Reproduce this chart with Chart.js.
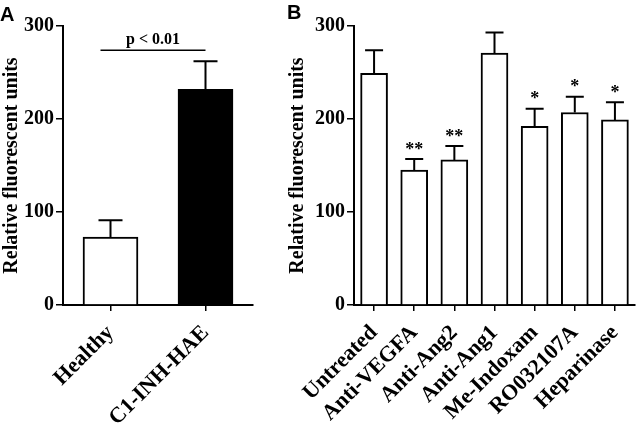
<!DOCTYPE html>
<html>
<head>
<meta charset="utf-8">
<script src="https://cdn.jsdelivr.net/npm/chart.js@4"></script>
<style>
    body { margin: 0; background: #fff; }
    #wrap { position: relative; width: 641px; height: 432px; }
    .panel { position: absolute; top: 0; height: 432px; }
    #panelA { left: 0; width: 260px; }
    #panelB { left: 260px; width: 381px; }
</style>
</head>
<body>
<div id="wrap">
    <div class="panel" id="panelA"><canvas id="chartA"></canvas></div>
    <div class="panel" id="panelB"><canvas id="chartB"></canvas></div>
</div>
<script>
// panel A
const labelsA = ['Healthy', 'C1-INH-HAE'];
const meansA = [73, 232];
const errorsA = [18, 30];
const sigLevelA = 274;
const sigTextA = 'p < 0.01';

// panel B
const labelsB = ['Untreated', 'Anti-VEGFA', 'Anti-Ang2', 'Anti-Ang1', 'Me-Indoxam', 'RO032107A', 'Heparinase'];
const meansB = [249, 145, 156, 271, 192, 207, 199];
const errorsB = [25, 12, 15, 22, 19, 17, 19];
const starsB = ['', '**', '**', '', '*', '*', '*'];

const yTicks = [0, 100, 200, 300];
const yTitle = 'Relative fluorescent units';

const SERIF = "'Liberation Serif', 'Times New Roman', serif";
const SANS = "'Liberation Sans', Arial, sans-serif";

const annotate = {
    id: 'annotate',
    afterDatasetsDraw(chart, args, opts) {
        const ctx = chart.ctx;
        const y = chart.scales.y;
        const meta = chart.getDatasetMeta(0);
        ctx.save();
        ctx.strokeStyle = '#000';
        ctx.lineWidth = 2;
        opts.means.forEach((m, i) => {
            const cx = meta.data[i].x;
            const base = y.getPixelForValue(m);
            const top = y.getPixelForValue(m + opts.errors[i]);
            ctx.beginPath();
            ctx.moveTo(cx, base);
            ctx.lineTo(cx, top);
            ctx.moveTo(cx - opts.cap / 2, top);
            ctx.lineTo(cx + opts.cap / 2, top);
            ctx.stroke();
            if (opts.stars && opts.stars[i]) {
                ctx.fillStyle = '#000';
                ctx.font = 'bold 18px ' + SERIF;
                ctx.textAlign = 'center';
                ctx.textBaseline = 'middle';
                ctx.fillText(opts.stars[i], cx, top - 9);
            }
        });
        if (opts.sig) {
            const x = chart.scales.x;
            const x0 = x.getPixelForValue(0) - 10;
            const x1 = x.getPixelForValue(1);
            const sy = y.getPixelForValue(opts.sig.level);
            ctx.lineWidth = 1.5;
            ctx.beginPath();
            ctx.moveTo(x0, sy);
            ctx.lineTo(x1, sy);
            ctx.stroke();
            ctx.fillStyle = '#000';
            ctx.font = 'bold 16px ' + SERIF;
            ctx.textAlign = 'center';
            ctx.textBaseline = 'alphabetic';
            ctx.fillText(opts.sig.text, (x0 + x1) / 2, sy - 6);
        }
        ctx.restore();
    },
    afterDraw(chart, args, opts) {
        const ctx = chart.ctx;
        ctx.save();
        ctx.fillStyle = '#000';
        ctx.font = 'bold 20px ' + SANS;
        ctx.textAlign = 'left';
        ctx.textBaseline = 'alphabetic';
        ctx.fillText(opts.letter, opts.letterX, opts.letterY);
        ctx.restore();
    }
};

function makeChart(id, labels, means, colors, cfg) {
    const ctx = document.getElementById(id).getContext('2d');
    return new Chart(ctx, {
        type: 'bar',
        data: {
            labels: labels,
            datasets: [{
                data: means,
                backgroundColor: colors,
                borderColor: '#000',
                borderWidth: 2,
                borderSkipped: 'start',
                barThickness: cfg.barWidth,
            }]
        },
        plugins: [annotate],
        options: {
            responsive: true,
            maintainAspectRatio: false,
            animation: false,
            devicePixelRatio: 1,
            layout: { padding: { top: 26, right: cfg.right, left: 0, bottom: 0 } },
            plugins: {
                legend: { display: false },
                tooltip: { enabled: false },
                annotate: cfg.annotate,
            },
            scales: {
                x: {
                    offset: true,
                    grid: {
                        offset: false,
                        drawOnChartArea: false,
                        drawTicks: true,
                        tickLength: 6,
                        color: '#000',
                        lineWidth: 1.5,
                    },
                    border: { display: true, color: '#000', width: 2 },
                    ticks: {
                        color: '#000',
                        font: { family: SERIF, size: 22, weight: 'bold' },
                        minRotation: 45,
                        maxRotation: 45,
                        autoSkip: false,
                        padding: 9,
                    },
                    afterFit(scale) {
                        scale.height = 127;
                        scale.paddingLeft = 0;
                        scale.paddingRight = 0;
                    }
                },
                y: {
                    min: 0,
                    max: 300,
                    afterBuildTicks(scale) {
                        scale.ticks = yTicks.map(v => ({ value: v }));
                    },
                    grid: {
                        drawOnChartArea: false,
                        drawTicks: true,
                        tickLength: 7,
                        color: '#000',
                        lineWidth: 1.5,
                    },
                    border: { display: true, color: '#000', width: 2 },
                    ticks: {
                        color: '#000',
                        font: { family: SERIF, size: 20, weight: 'bold' },
                        padding: 2,
                    },
                    title: {
                        display: true,
                        text: yTitle,
                        color: '#000',
                        font: { family: SERIF, size: 20, weight: 'bold' },
                        padding: { top: cfg.titlePad, bottom: 0 },
                    },
                    afterFit(scale) {
                        scale.width = cfg.axisWidth;
                        scale.paddingTop = 0;
                        scale.paddingBottom = 0;
                    }
                }
            }
        }
    });
}

makeChart('chartA', labelsA, meansA, ['#fff', '#000'], {
    barWidth: 55,
    right: 7,
    axisWidth: 63,
    titlePad: 0,
    annotate: {
        means: meansA,
        errors: errorsA,
        cap: 24,
        sig: { level: sigLevelA, text: sigTextA },
        letter: 'A', letterX: 0, letterY: 21,
    }
});

makeChart('chartB', labelsB, meansB, '#fff', {
    barWidth: 27,
    right: 6,
    axisWidth: 94,
    titlePad: 26,
    annotate: {
        means: meansB,
        errors: errorsB,
        stars: starsB,
        cap: 18,
        letter: 'B', letterX: 27, letterY: 19,
    }
});
</script>
</body>
</html>
